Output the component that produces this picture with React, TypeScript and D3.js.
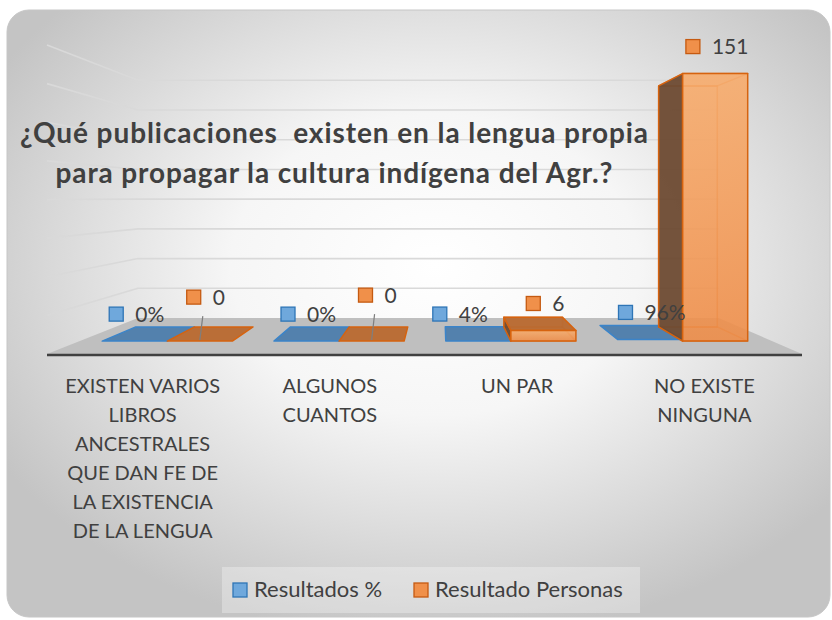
import React from 'react'
import * as d3 from 'd3'

// chart data
const categories = [
  'EXISTEN VARIOS LIBROS ANCESTRALES QUE DAN FE DE LA EXISTENCIA DE LA LENGUA',
  'ALGUNOS CUANTOS',
  'UN PAR',
  'NO EXISTE NINGUNA',
]
const seriesNames = ['Resultados %', 'Resultado Personas']
const pctValues = [0, 0, 0.04, 0.96]
const pctLabels = ['0%', '0%', '4%', '96%']
const peopleValues = [0, 0, 6, 151]
const peopleLabels = ['0', '0', '6', '151']
const valueTicks = [0, 20, 40, 60, 80, 100, 120, 140, 160]
const titleLines = [
  '¿Qué publicaciones  existen en la lengua propia',
  'para propagar la cultura indígena del Agr.?',
]

const W = 832
const H = 620
const FONT = 'Lato, "Open Sans", sans-serif'

// simple one-point perspective for the excel style 3d plot
const VPX = 441
const VPY = 198
const K = 0.3
const Z0 = 0.3
const Z1 = 0.7
const proj = (X: number, Y: number, z: number): [number, number] => {
  const s = 1 / (1 + K * z)
  return [VPX + (X - VPX) * s, VPY + (Y - VPY) * s]
}
const pts = (p: [number, number][]) => p.map(q => q.join(',')).join(' ')

const colors = [
  { front: '#5b9bd5', top: '#4d7dac', side: '#2f5f8f', stroke: '#3b84c9', key: '#6fa8dc', keyStroke: '#2e75b6' },
  { front: 'url(#orangeFront)', top: '#b9692f', side: '#6d4a31', stroke: '#d6630f', key: '#f0904a', keyStroke: '#c55a11' },
]

// manual nudges of some data labels, as in the original
const labelNudge: Record<string, [number, number]> = {
  '1-0': [4, -17],
  '1-1': [4, -19],
  '0-2': [-20, 0],
}

let ctx: CanvasRenderingContext2D | null = null
const measure = (t: string, size: number, weight = 'normal') => {
  if (!ctx) ctx = document.createElement('canvas').getContext('2d')
  if (!ctx) return t.length * size * 0.5
  ctx.font = `${weight} ${size}px Lato`
  return ctx.measureText(t).width
}

const wrap = (t: string, maxW: number, size: number) => {
  const words = t.split(' ')
  const lines: string[] = []
  let cur = ''
  words.forEach(w => {
    const next = cur ? cur + ' ' + w : w
    if (cur && measure(next, size) > maxW) {
      lines.push(cur)
      cur = w
    } else cur = next
  })
  if (cur) lines.push(cur)
  return lines
}

function Bar({ X0, X1, Yb, Yt, c }: { X0: number; X1: number; Yb: number; Yt: number; c: any }) {
  const fbl = proj(X0, Yb, Z0), fbr = proj(X1, Yb, Z0), ftl = proj(X0, Yt, Z0), ftr = proj(X1, Yt, Z0)
  const bbl = proj(X0, Yb, Z1), bbr = proj(X1, Yb, Z1), btl = proj(X0, Yt, Z1), btr = proj(X1, Yt, Z1)
  const front = [fbl, fbr, ftr, ftl]
  const back = [bbl, bbr, btr, btl]
  const left = [fbl, bbl, btl, ftl]
  const right = [fbr, bbr, btr, ftr]
  const top = [ftl, ftr, btr, btl]
  const bottom = [fbl, fbr, bbr, bbl]
  const leftVis = X0 > VPX
  const rightVis = X1 < VPX
  const topVis = Yt > VPY
  const tall = Yb - Yt > 4
  return (
    <g strokeLinejoin="round">
      {tall && (
        <g fill="none" stroke={c.stroke} strokeOpacity={0.55} strokeWidth={1.5}>
          <polygon points={pts(back)} />
          <polygon points={pts(bottom)} />
          {!topVis && <polygon points={pts(top)} />}
        </g>
      )}
      {tall && leftVis && <polygon points={pts(left)} fill={c.side} fillOpacity={0.95} stroke={c.stroke} strokeWidth={1.5} />}
      {tall && rightVis && <polygon points={pts(right)} fill={c.side} fillOpacity={0.95} stroke={c.stroke} strokeWidth={1.5} />}
      {topVis && <polygon points={pts(top)} fill={c.top} fillOpacity={0.95} stroke={c.stroke} strokeWidth={1.5} />}
      {tall && <polygon points={pts(front)} fill={c.front} fillOpacity={0.88} stroke={c.stroke} strokeWidth={1.5} />}
    </g>
  )
}

export default function App() {
  const floorY = 354
  const y = d3.scaleLinear().domain([0, 160]).range([floorY, 45])
  const x0 = d3.scaleBand<string>().domain(categories).range([49, 798])
  const x1 = d3.scaleBand<string>().domain(seriesNames).range([0, x0.bandwidth()]).paddingInner(0).paddingOuter(0.32)
  const floorX: [number, number] = [47, 802]
  const series = [pctValues, peopleValues]
  const labels = [pctLabels, peopleLabels]

  const floor = [proj(floorX[0], floorY, 0), proj(floorX[1], floorY, 0), proj(floorX[1], floorY, 1), proj(floorX[0], floorY, 1)]

  const lblSize = 21
  const catSize = 20
  const titleWidths = [628, 557]

  return (
    <svg width={W} height={H} style={{ position: 'absolute', left: 0, top: 0 }} fontFamily={FONT}>
      <defs>
        <radialGradient id="bg" cx="0.52" cy="0.42" r="0.62">
          <stop offset="0" stopColor="#ffffff" />
          <stop offset="0.4" stopColor="#f6f6f6" />
          <stop offset="1" stopColor="#c4c4c4" />
        </radialGradient>
        <linearGradient id="orangeFront" x1="0" y1="0" x2="0" y2="1">
          <stop offset="0" stopColor="#f8ab6a" />
          <stop offset="1" stopColor="#ef8c46" />
        </linearGradient>
      </defs>
      <rect x={7} y={10} width={823} height={607} rx={22} fill="url(#bg)" stroke="#c6c6c6" />

      {/* back wall and side wall gridlines */}
      <g stroke="#d9d9d9" strokeWidth={1.6} fill="none">
        {valueTicks.slice(1).map(t => {
          const a = proj(floorX[0], y(t), 0)
          const b = proj(floorX[0], y(t), 1)
          const c = proj(floorX[1], y(t), 1)
          return <polyline key={t} points={pts([a, b, c])} />
        })}
      </g>

      {/* floor */}
      <polygon points={pts(floor)} fill="#bfbfbf" />

      {/* bars */}
      {categories.map((cat, i) =>
        series.map((vals, s) => {
          const X0 = (x0(cat) ?? 0) + (x1(seriesNames[s]) ?? 0)
          const X1 = X0 + x1.bandwidth()
          return <Bar key={cat + s} X0={X0} X1={X1} Yb={floorY} Yt={y(vals[i])} c={colors[s]} />
        })
      )}

      {/* category axis line */}
      <line x1={floorX[0]} x2={floorX[1]} y1={floorY + 1} y2={floorY + 1} stroke="#404040" strokeWidth={2.5} />

      {/* data labels */}
      {categories.map((cat, i) =>
        series.map((vals, s) => {
          const X = (x0(cat) ?? 0) + (x1(seriesNames[s]) ?? 0) + x1.bandwidth() / 2
          const [tx, ty] = proj(X, y(vals[i]), Z0)
          const nudge = labelNudge[`${s}-${i}`] ?? [0, 0]
          const cx = tx + 2 + nudge[0]
          const cy = ty - 27 + nudge[1]
          const txt = labels[s][i]
          const tw = measure(txt, lblSize)
          const gw = 14 + 12 + tw
          const left = cx - gw / 2
          return (
            <g key={'l' + cat + s}>
              {nudge[1] !== 0 && (
                <line x1={tx} y1={ty - 1} x2={cx - 3} y2={cy + 19} stroke="#7f7f7f" strokeWidth={1.2} />
              )}
              <rect x={left} y={cy - 7} width={14} height={14} fill={colors[s].key} stroke={colors[s].keyStroke} strokeWidth={1.3} />
              <text x={left + 26} y={cy + 7.5} fontSize={lblSize} fill="#404040">{txt}</text>
            </g>
          )
        })
      )}

      {/* category labels */}
      {categories.map(cat => {
        const cx = (x0(cat) ?? 0) + x0.bandwidth() / 2
        return (
          <text key={'c' + cat} x={cx} textAnchor="middle" fontSize={catSize} fill="#404040">
            {wrap(cat, 172, catSize).map((ln, k) => (
              <tspan key={k} x={cx} y={393 + k * 29}>{ln}</tspan>
            ))}
          </text>
        )
      })}

      {/* title */}
      {titleLines.map((ln, k) => (
        <text key={k} x={334} y={143 + k * 40} textAnchor="middle" fontSize={28} fontWeight="bold" fill="#404040"
          textLength={titleWidths[k]} lengthAdjust="spacing" style={{ whiteSpace: 'pre' }}>
          {ln}
        </text>
      ))}

      {/* legend */}
      <rect x={222} y={567} width={418} height={46} fill="#ffffff" fillOpacity={0.3} />
      {seriesNames.map((nm, s) => {
        const lx = s === 0 ? 233 : 414
        return (
          <g key={nm}>
            <rect x={lx} y={583} width={14} height={14} fill={colors[s].key} stroke={colors[s].keyStroke} strokeWidth={1.3} />
            <text x={lx + 21} y={597} fontSize={22} fill="#404040">{nm}</text>
          </g>
        )
      })}
    </svg>
  )
}
